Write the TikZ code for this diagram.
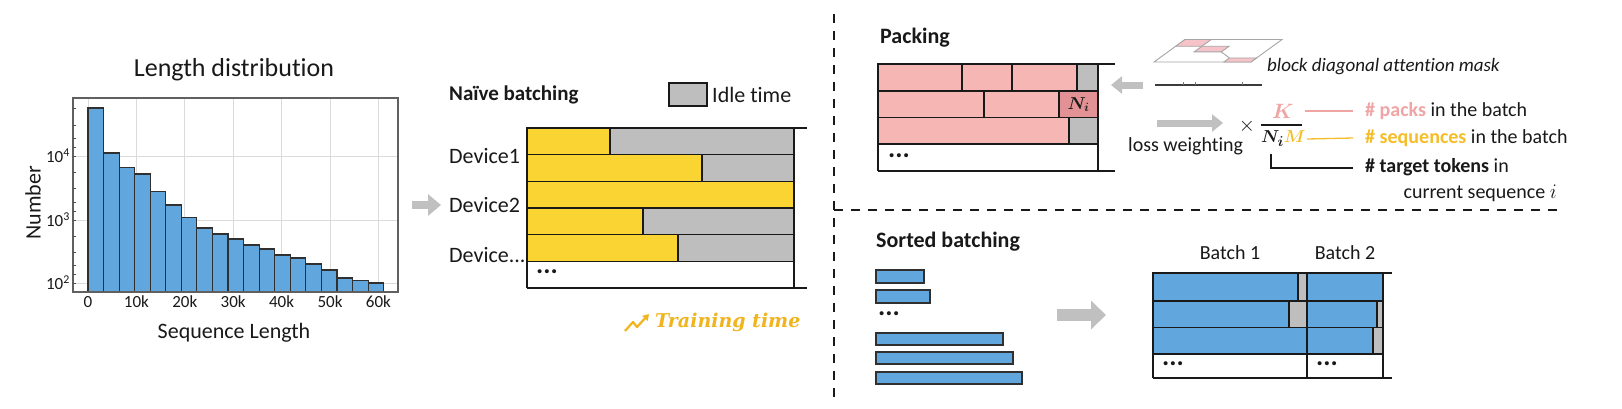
\documentclass[tikz,border=0pt]{standalone}
\usepackage{fontspec}
\setmainfont{Carlito}[Ligatures=NoCommon]
\newfontfamily\slabfont{DejaVu Serif}
\usepackage{amsmath,bm}
\usetikzlibrary{arrows.meta}
\definecolor{hblue}{RGB}{98,166,222}
\definecolor{byellow}{RGB}{250,212,50}
\definecolor{igray}{RGB}{190,190,190}
\definecolor{agray}{RGB}{192,192,192}
\definecolor{ppink}{RGB}{245,182,180}
\definecolor{dpink}{RGB}{226,146,148}
\definecolor{kpink}{RGB}{240,165,165}
\definecolor{myellow}{RGB}{245,190,40}
\definecolor{tyellow}{RGB}{240,180,30}
\definecolor{mpink}{RGB}{246,196,200}
\definecolor{ink}{RGB}{25,25,25}
\newcommand\myfs[1]{\fontsize{#1}{#1}\selectfont}
\begin{document}
\begin{tikzpicture}[x=1pt,y=-1pt,
  txt/.style={inner sep=0pt, text=ink},
  dots/.style={inner sep=0pt, text=ink, font=\bfseries\myfs{27}, anchor=west},
  cellbox/.style={draw=ink, line width=1.6pt},
  outer/.style={draw=ink, line width=2.6pt},
  garrow/.style={draw=agray, line width=#1},
  sepline/.style={draw=ink, line width=2.4pt, dash pattern=on 9pt off 8pt},
  bar/.style={draw=ink!90, fill=hblue, line width=1.1pt}]
\useasboundingbox (0,0) rectangle (1622,408);
\fill[white] (0,0) rectangle (1622,408);

% ---------------- histogram ----------------
\foreach \k in {0,...,6} \draw[gray!28, line width=1pt] ({88+48.4*\k},98) -- ({88+48.4*\k},292);
\foreach \yy in {156,220,283} \draw[gray!28, line width=1pt] (73,\yy) -- (398,\yy);
\foreach \t [count=\i from 0] in {108,153,167.5,174,191.5,205,217.5,228,234,239,245,249,255,258,264,270,278,280.5,283}
  \draw[bar] ({88+15.56*\i},292) rectangle ({88+15.56*(\i+1)},\t);
\draw[gray!75!black, line width=1.2pt] (73,98) rectangle (398,292);
\foreach \yy in {108,125,138,147,156,172,188,202,211,220,236,252,265,274,283}
  \draw[gray!60!black, line width=0.8pt] (73,\yy) -- (76,\yy);
\foreach \lab [count=\k from 0] in {0,10k,20k,30k,40k,50k,60k}
  \node[txt, font=\myfs{17}] (xt\k) at ({88+48.4*\k},302) {\lab};
\node[txt, font=\myfs{17}, anchor=east] (y4) at (70,156) {10\textsuperscript{4}};
\node[txt, font=\myfs{17}, anchor=east] (y3) at (70,220) {10\textsuperscript{3}};
\node[txt, font=\myfs{17}, anchor=east] (y2) at (70,283) {10\textsuperscript{2}};
\node[txt, font=\myfs{22}, rotate=90] (ylab) at (33,203) {Number};
\node[txt, font=\myfs{22}] (xlab) at (234,333) {Sequence Length};
\node[txt, font=\myfs{26}] (htitle) at (234,70) {Length distribution};

% arrow to naive batching
\coordinate (na1) at (412,205); \coordinate (na2) at (441,205);
\draw[garrow=8pt, -{Triangle[length=13pt,width=21pt]}] (na1) -- (na2);

% ---------------- naive batching ----------------
\node[txt, font=\bfseries\myfs{21}, anchor=west] (naive) at (449,95) {Naïve batching};
\draw[cellbox, fill=igray] (669,83) rectangle (707,106);
\node[txt, font=\myfs{22}, anchor=west] (idle) at (712,95) {Idle time};
\node[txt, font=\myfs{22}, anchor=west] (dev1) at (449,156) {Device1};
\node[txt, font=\myfs{22}, anchor=west] (dev2) at (449,205) {Device2};
\node[txt, font=\myfs{22}, anchor=west] (dev3) at (449,255) {Device...};
\foreach \e [count=\r from 0] in {610,702,794,643,678} {
  \draw[cellbox, fill=byellow] (527,{128+26.67*\r}) rectangle (\e,{128+26.67*(\r+1)});
  \ifdim \e pt<794pt
    \draw[cellbox, fill=igray] (\e,{128+26.67*\r}) rectangle (794,{128+26.67*(\r+1)});
  \fi
}
\node[dots] (ndots) at (536,272) {...};
\draw[outer] (527,128) -- (807,128);
\draw[outer] (527,288) -- (807,288);
\draw[outer] (527,128) -- (527,288);
\draw[outer] (794,128) -- (794,288);
% training time
\coordinate (ti1) at (625,331); \coordinate (ti2) at (633,322); \coordinate (ti3) at (637,327); \coordinate (ti4) at (649,314);
\draw[tyellow, line width=2.2pt, line join=round, -{Triangle[length=6pt,width=7pt]}] (ti1) -- (ti2) -- (ti3) -- (ti4);
\node[txt, text=tyellow, font=\slabfont\bfseries\itshape\myfs{19}, anchor=west] (ttime) at (655,322) {Training time};

% ---------------- separators ----------------
\coordinate (s1) at (834,14); \coordinate (s2) at (834,400);
\coordinate (s3) at (834,210); \coordinate (s4) at (1562,210);
\draw[sepline] (s1) -- (s2);
\draw[sepline] (s3) -- (s4);

% ---------------- packing ----------------
\node[txt, font=\bfseries\myfs{22}, anchor=west] (packing) at (880,38) {Packing};
\draw[cellbox, fill=ppink] (878,64) rectangle (962,90.75);
\draw[cellbox, fill=ppink] (962,64) rectangle (1012,90.75);
\draw[cellbox, fill=ppink] (1012,64) rectangle (1077,90.75);
\draw[cellbox, fill=igray] (1077,64) rectangle (1098,90.75);
\draw[cellbox, fill=ppink] (878,90.75) rectangle (984,117.5);
\draw[cellbox, fill=ppink] (984,90.75) rectangle (1059,117.5);
\draw[cellbox, fill=dpink] (1059,90.75) rectangle (1098,117.5);
\node[txt, font=\myfs{17}] (ni) at (1078.5,104.5) {$\bm{N_i}$};
\draw[cellbox, fill=ppink] (878,117.5) rectangle (1069,144.25);
\draw[cellbox, fill=igray] (1069,117.5) rectangle (1098,144.25);
\node[dots] (pdots) at (888,156) {...};
\draw[outer] (878,64) -- (1115,64);
\draw[outer] (878,171) -- (1115,171);
\draw[outer] (878,64) -- (878,171);
\draw[outer] (1098,64) -- (1098,171);

% arrows
\coordinate (pa1) at (1143,85); \coordinate (pa2) at (1111,85);
\draw[garrow=7pt, -{Triangle[length=11pt,width=17pt]}] (pa1) -- (pa2);
\coordinate (la1) at (1157,123); \coordinate (la2) at (1223,123);
\draw[garrow=7pt, -{Triangle[length=11pt,width=17pt]}] (la1) -- (la2);
\node[txt, font=\myfs{20}, anchor=west] (loss) at (1128,146) {loss weighting};

% attention mask icon
\newcommand\mpt[2]{({1185+97*(#1)-31*(#2)},{39.5+22.5*(#2)})}
\draw[gray!70, line width=0.9pt, fill=white] \mpt{0}{0} -- \mpt{1}{0} -- \mpt{1}{1} -- \mpt{0}{1} -- cycle;
\draw[gray!70, line width=0.9pt, fill=mpink] \mpt{0}{0} -- \mpt{0.27}{0} -- \mpt{0.27}{0.3} -- \mpt{0}{0.3} -- cycle;
\draw[gray!70, line width=0.9pt, fill=mpink] \mpt{0.27}{0.3} -- \mpt{0.55}{0.3} -- \mpt{0.55}{0.55} -- \mpt{0.27}{0.55} -- cycle;
\draw[gray!70, line width=0.9pt] \mpt{0.55}{0.55} -- \mpt{0.72}{0.82};
\draw[gray!70, line width=0.9pt, fill=mpink] \mpt{0.72}{0.82} -- \mpt{1}{0.82} -- \mpt{1}{1} -- \mpt{0.72}{1} -- cycle;
\coordinate (r1) at (1155,85); \coordinate (r2) at (1262,85);
\draw[ink!85, line width=2pt] (r1) -- (r2);
\foreach \tx in {1183,1195,1242} \draw[ink!60, line width=0.9pt] (\tx,85) -- (\tx,81.5);
\node[txt, font=\itshape\myfs{19}, anchor=west] (mask) at (1267,67) {block diagonal attention mask};

% fraction
\node[txt, font=\myfs{20}] (times) at (1247,126) {$\times$};
\coordinate (fb1) at (1261,125); \coordinate (fb2) at (1302,125);
\draw[ink, line width=1.4pt] (fb1) -- (fb2);
\node[txt, text=kpink, font=\myfs{20}] (K) at (1283,111) {$\bm{K}$};
\node[txt, font=\myfs{19}, anchor=west] (den) at (1261,139) {$\bm{N_i}\textcolor{myellow}{\bm{M}}$};
\coordinate (kl1) at (1305,111); \coordinate (kl2) at (1353,111);
\draw[kpink, line width=1.3pt] (kl1) -- (kl2);
\coordinate (ml1) at (den.east); \coordinate (ml2) at (1353,138);
\draw[myellow, line width=1.3pt] ([xshift=1pt]den.east) -- (ml2);
\coordinate (tl1) at (1271,154); \coordinate (tl2) at (1271,168); \coordinate (tl3) at (1353,168);
\draw[ink, line width=1.6pt] (tl1) -- (tl2) -- (tl3);
\node[txt, font=\myfs{20}, anchor=west] (packs) at (1365,111) {\textcolor{kpink}{\bfseries \# packs} in the batch};
\node[txt, font=\myfs{20}, anchor=west] (seqs) at (1365,138) {\textcolor{myellow}{\bfseries \# sequences} in the batch};
\node[txt, font=\myfs{20}, anchor=west] (tgt) at (1365,167) {\bfseries \# target tokens \mdseries in};
\node[txt, font=\myfs{20}, anchor=east] (cur) at (1557,193) {current sequence $i$};

% ---------------- sorted batching ----------------
\node[txt, font=\bfseries\myfs{22}, anchor=west] (sorted) at (876,242) {Sorted batching};
\draw[bar, line width=1.8pt] (876,270) rectangle (924,283);
\draw[bar, line width=1.8pt] (876,290) rectangle (930,303);
\node[dots] (sdots) at (878,314) {...};
\draw[bar, line width=1.8pt] (876,333) rectangle (1003,345);
\draw[bar, line width=1.8pt] (876,352) rectangle (1013,364);
\draw[bar, line width=1.8pt] (876,372) rectangle (1022,384);
\coordinate (sa1) at (1057,315); \coordinate (sa2) at (1106,315);
\draw[garrow=12pt, -{Triangle[length=15pt,width=28pt]}] (sa1) -- (sa2);

\node[txt, font=\myfs{20}] (b1) at (1230,253) {Batch 1};
\node[txt, font=\myfs{20}] (b2) at (1345,253) {Batch 2};
% batch 1
\draw[cellbox, fill=hblue] (1153,273) rectangle (1298,300.7);
\draw[cellbox, fill=igray] (1298,273) rectangle (1307,300.7);
\draw[cellbox, fill=hblue] (1153,300.7) rectangle (1289,327.3);
\draw[cellbox, fill=igray] (1289,300.7) rectangle (1307,327.3);
\draw[cellbox, fill=hblue] (1153,327.3) rectangle (1307,354);
% batch 2
\draw[cellbox, fill=hblue] (1307,273) rectangle (1383,300.7);
\draw[cellbox, fill=hblue] (1307,300.7) rectangle (1377,327.3);
\draw[cellbox, fill=igray] (1377,300.7) rectangle (1383,327.3);
\draw[cellbox, fill=hblue] (1307,327.3) rectangle (1373,354);
\draw[cellbox, fill=igray] (1373,327.3) rectangle (1383,354);
\node[dots] (bd1) at (1162,364) {...};
\node[dots] (bd2) at (1316,364) {...};
\draw[cellbox] (1153,354) -- (1383,354);
\draw[outer] (1153,273) -- (1392,273);
\draw[outer] (1153,378) -- (1392,378);
\draw[outer] (1153,273) -- (1153,378);
\draw[outer] (1383,273) -- (1383,378);
\draw[outer] (1307,273) -- (1307,378);
\end{tikzpicture}
\end{document}
